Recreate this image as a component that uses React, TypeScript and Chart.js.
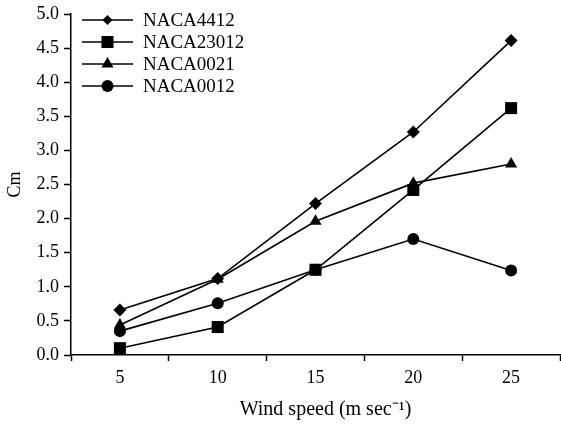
import React, { useEffect, useRef } from 'react';
import { Chart, registerables } from 'chart.js';

Chart.register(...registerables);

const categories = ['5', '10', '15', '20', '25'];
const naca4412 = [0.66, 1.12, 2.22, 3.27, 4.61];
const naca23012 = [0.1, 0.41, 1.25, 2.42, 3.62];
const naca0021 = [0.44, 1.11, 1.96, 2.52, 2.8];
const naca0012 = [0.35, 0.76, 1.25, 1.7, 1.24];
const seriesNames = ['NACA4412', 'NACA23012', 'NACA0021', 'NACA0012'];
const seriesMarkers = ['rectRot', 'rect', 'triangle', 'circle'];
const seriesRadius = [6.5, 8.5, 7, 6];
const legendRadius = [5, 8.5, 7, 6];

const FONT = '"Liberation Serif", "Times New Roman", serif';

function drawMarker(ctx: CanvasRenderingContext2D, style: string, x: number, y: number, r: number) {
  ctx.beginPath();
  if (style === 'circle') {
    ctx.arc(x, y, r, 0, Math.PI * 2);
  } else if (style === 'rect') {
    const s = Math.SQRT1_2 * r;
    ctx.rect(x - s, y - s, 2 * s, 2 * s);
  } else if (style === 'rectRot') {
    ctx.moveTo(x, y - r);
    ctx.lineTo(x + r, y);
    ctx.lineTo(x, y + r);
    ctx.lineTo(x - r, y);
  } else if (style === 'triangle') {
    let rad = 0;
    ctx.moveTo(x + Math.sin(rad) * r, y - Math.cos(rad) * r);
    rad += (2 * Math.PI) / 3;
    ctx.lineTo(x + Math.sin(rad) * r, y - Math.cos(rad) * r);
    rad += (2 * Math.PI) / 3;
    ctx.lineTo(x + Math.sin(rad) * r, y - Math.cos(rad) * r);
  }
  ctx.closePath();
  ctx.fill();
}

const legendPlugin = {
  id: 'innerLegend',
  afterDraw(chart: any) {
    const ctx: CanvasRenderingContext2D = chart.ctx;
    const { left, top } = chart.chartArea;
    ctx.save();
    chart.data.datasets.forEach((ds: any, i: number) => {
      const y = top + 6 + i * 22;
      const x0 = left + 11;
      const x1 = left + 62;
      ctx.strokeStyle = '#000';
      ctx.lineWidth = 1.5;
      ctx.beginPath();
      ctx.moveTo(x0, y);
      ctx.lineTo(x1, y);
      ctx.stroke();
      ctx.fillStyle = '#000';
      drawMarker(ctx, seriesMarkers[i], (x0 + x1) / 2, y, legendRadius[i]);
      ctx.font = '19px ' + FONT;
      ctx.textBaseline = 'middle';
      ctx.textAlign = 'left';
      ctx.fillText(ds.label, left + 72, y + 1);
    });
    ctx.restore();
  },
};

export default function App() {
  const ref = useRef<HTMLCanvasElement | null>(null);

  useEffect(() => {
    if (!ref.current) return;
    const seriesData = [naca4412, naca23012, naca0021, naca0012];
    const chart = new Chart(ref.current, {
      type: 'line',
      data: {
        labels: categories,
        datasets: seriesData.map((d, i) => ({
          label: seriesNames[i],
          data: d,
          borderColor: '#000',
          backgroundColor: '#000',
          borderWidth: 1.6,
          pointStyle: seriesMarkers[i] as any,
          pointRadius: seriesRadius[i],
          pointBackgroundColor: '#000',
          pointBorderColor: '#000',
          pointBorderWidth: 0,
          tension: 0,
          clip: false as any,
        })),
      },
      options: {
        animation: false,
        responsive: false,
        maintainAspectRatio: false,
        layout: { autoPadding: false, padding: { top: 14, right: 1, left: 0, bottom: 0 } },
        plugins: {
          legend: { display: false },
          tooltip: { enabled: false },
        },
        scales: {
          x: {
            type: 'category',
            offset: true,
            grid: {
              display: true,
              offset: true,
              drawOnChartArea: false,
              drawTicks: true,
              tickLength: 6,
              tickWidth: 1.5,
              tickColor: '#000',
            },
            border: { display: true, color: '#000', width: 1.5 },
            ticks: {
              color: '#000',
              font: { family: FONT, size: 18 },
              padding: 6,
              maxRotation: 0,
            },
            title: {
              display: true,
              text: '\u2003Wind speed (m sec\u207B\u00B9)',
              color: '#000',
              font: { family: FONT, size: 20 },
              padding: { top: 0, bottom: 5 },
            },
            afterFit: (scale: any) => {
              scale.height = 72;
            },
          },
          y: {
            type: 'linear',
            min: 0,
            max: 5,
            grid: {
              display: true,
              drawOnChartArea: false,
              drawTicks: true,
              tickLength: 7,
              tickWidth: 1.5,
              tickColor: '#000',
            },
            border: { display: true, color: '#000', width: 1.5 },
            ticks: {
              stepSize: 0.5,
              color: '#000',
              font: { family: FONT, size: 18, lineHeight: 1 },
              padding: 5,
              callback: (v: any) => Number(v).toFixed(1),
            },
            title: {
              display: true,
              text: 'Cm',
              color: '#000',
              font: { family: FONT, size: 18 },
              padding: { top: 4, bottom: 0 },
            },
            afterFit: (scale: any) => {
              scale.width = 71;
              scale.paddingTop = 0;
            },
          },
        },
      },
      plugins: [legendPlugin],
    });
    return () => chart.destroy();
  }, []);

  return (
    <div style={{ position: 'absolute', left: 0, top: 0, width: 561, height: 427, background: '#fff' }}>
      <canvas ref={ref} width={561} height={427} style={{ display: 'block' }} />
    </div>
  );
}
